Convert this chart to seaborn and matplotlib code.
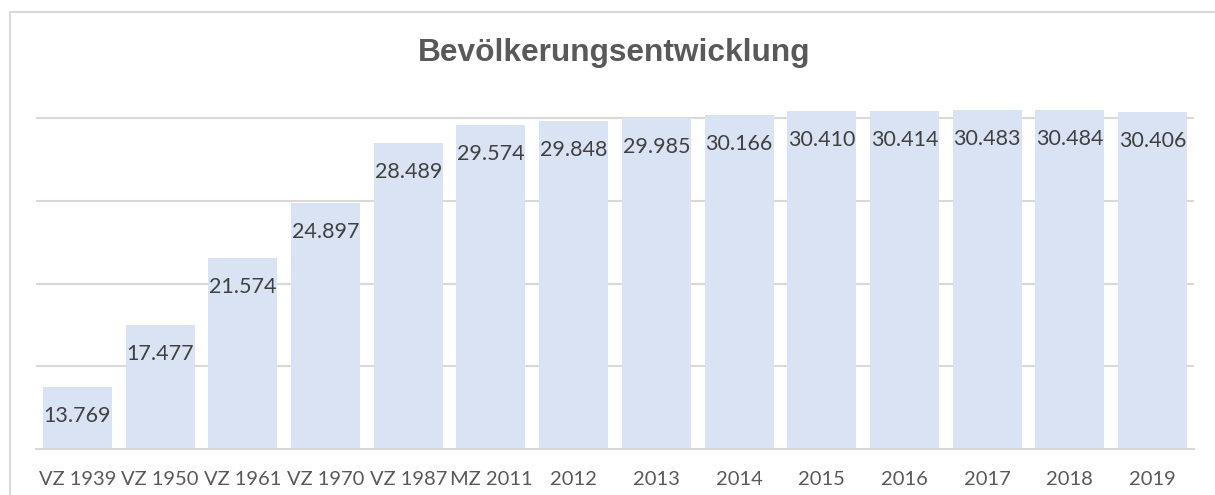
import matplotlib
matplotlib.use("Agg")
import matplotlib.pyplot as plt
import seaborn as sns
import pandas as pd
from matplotlib.lines import Line2D

categories = ["VZ 1939", "VZ 1950", "VZ 1961", "VZ 1970", "VZ 1987", "MZ 2011",
              "2012", "2013", "2014", "2015", "2016", "2017", "2018", "2019"]
values = [13769, 17477, 21574, 24897, 28489, 29574, 29848, 29985, 30166,
          30410, 30414, 30483, 30484, 30406]
title = "Bevölkerungsentwicklung"

sns.set_style("white")
plt.rcParams['font.family'] = ['Lato', 'DejaVu Sans']

W, H = 1215, 495
fig = plt.figure(figsize=(W / 100, H / 100), dpi=100)
ax_left, ax_right = 36 / W, 1194 / W
ax_bottom = 1 - 449 / H
ax_top = 1 - 101.7 / H
ax = fig.add_axes([ax_left, ax_bottom, ax_right - ax_left, ax_top - ax_bottom])

df = pd.DataFrame({"cat": categories, "val": values})
sns.barplot(data=df, x="cat", y="val", color="#DAE3F3", saturation=1,
            width=0.835, ax=ax, zorder=2)
for p in ax.patches:
    p.set_edgecolor("none")

ax.set_ylim(10000, 31000)
ax.set_xlim(-0.5, len(categories) - 0.5)
ax.set_yticks([15000, 20000, 25000, 30000])
ax.set_yticklabels([])
ax.tick_params(axis='y', length=0)
ax.grid(axis='y', color="#D9D9D9", linewidth=1.5, zorder=0)
ax.set_axisbelow(True)
for s in ["left", "right", "top"]:
    ax.spines[s].set_visible(False)
ax.spines["bottom"].set_color("#D9D9D9")
ax.spines["bottom"].set_linewidth(1.5)
ax.spines["bottom"].set_zorder(3)

ax.set_xticks(range(len(categories)))
ax.set_xticklabels(categories, fontsize=14.5, color="#595959")
ax.tick_params(axis='x', which='major', length=0, pad=16)
ax.set_xticks([i - 0.5 for i in range(len(categories) + 1)], minor=True)
ax.tick_params(axis='x', which='minor', length=6, width=1.5, color="#D9D9D9", direction='out')
ax.set_xlabel("")
ax.set_ylabel("")

for i, v in enumerate(values):
    lab = f"{v:,}".replace(",", ".")
    ax.annotate(lab, (i, v), xytext=(0, -29 * 0.72), textcoords='offset points',
                ha='center', va='center', fontsize=15.5, color="#404040", zorder=4)

fig.text(614 / W, 1 - 53 / H, title, ha='center', va='center', fontsize=22.8,
         fontweight='bold', color="#595959", family=['Liberation Sans', 'DejaVu Sans'])

fig.add_artist(Line2D([9.5 / W, 1.01], [1 - 11.5 / H, 1 - 11.5 / H],
                      transform=fig.transFigure, color="#D9D9D9", linewidth=1.5))
fig.add_artist(Line2D([9.5 / W, 9.5 / W], [1 - 11.5 / H, -0.01],
                      transform=fig.transFigure, color="#D9D9D9", linewidth=1.5))

fig.savefig("out.png", dpi=100)
